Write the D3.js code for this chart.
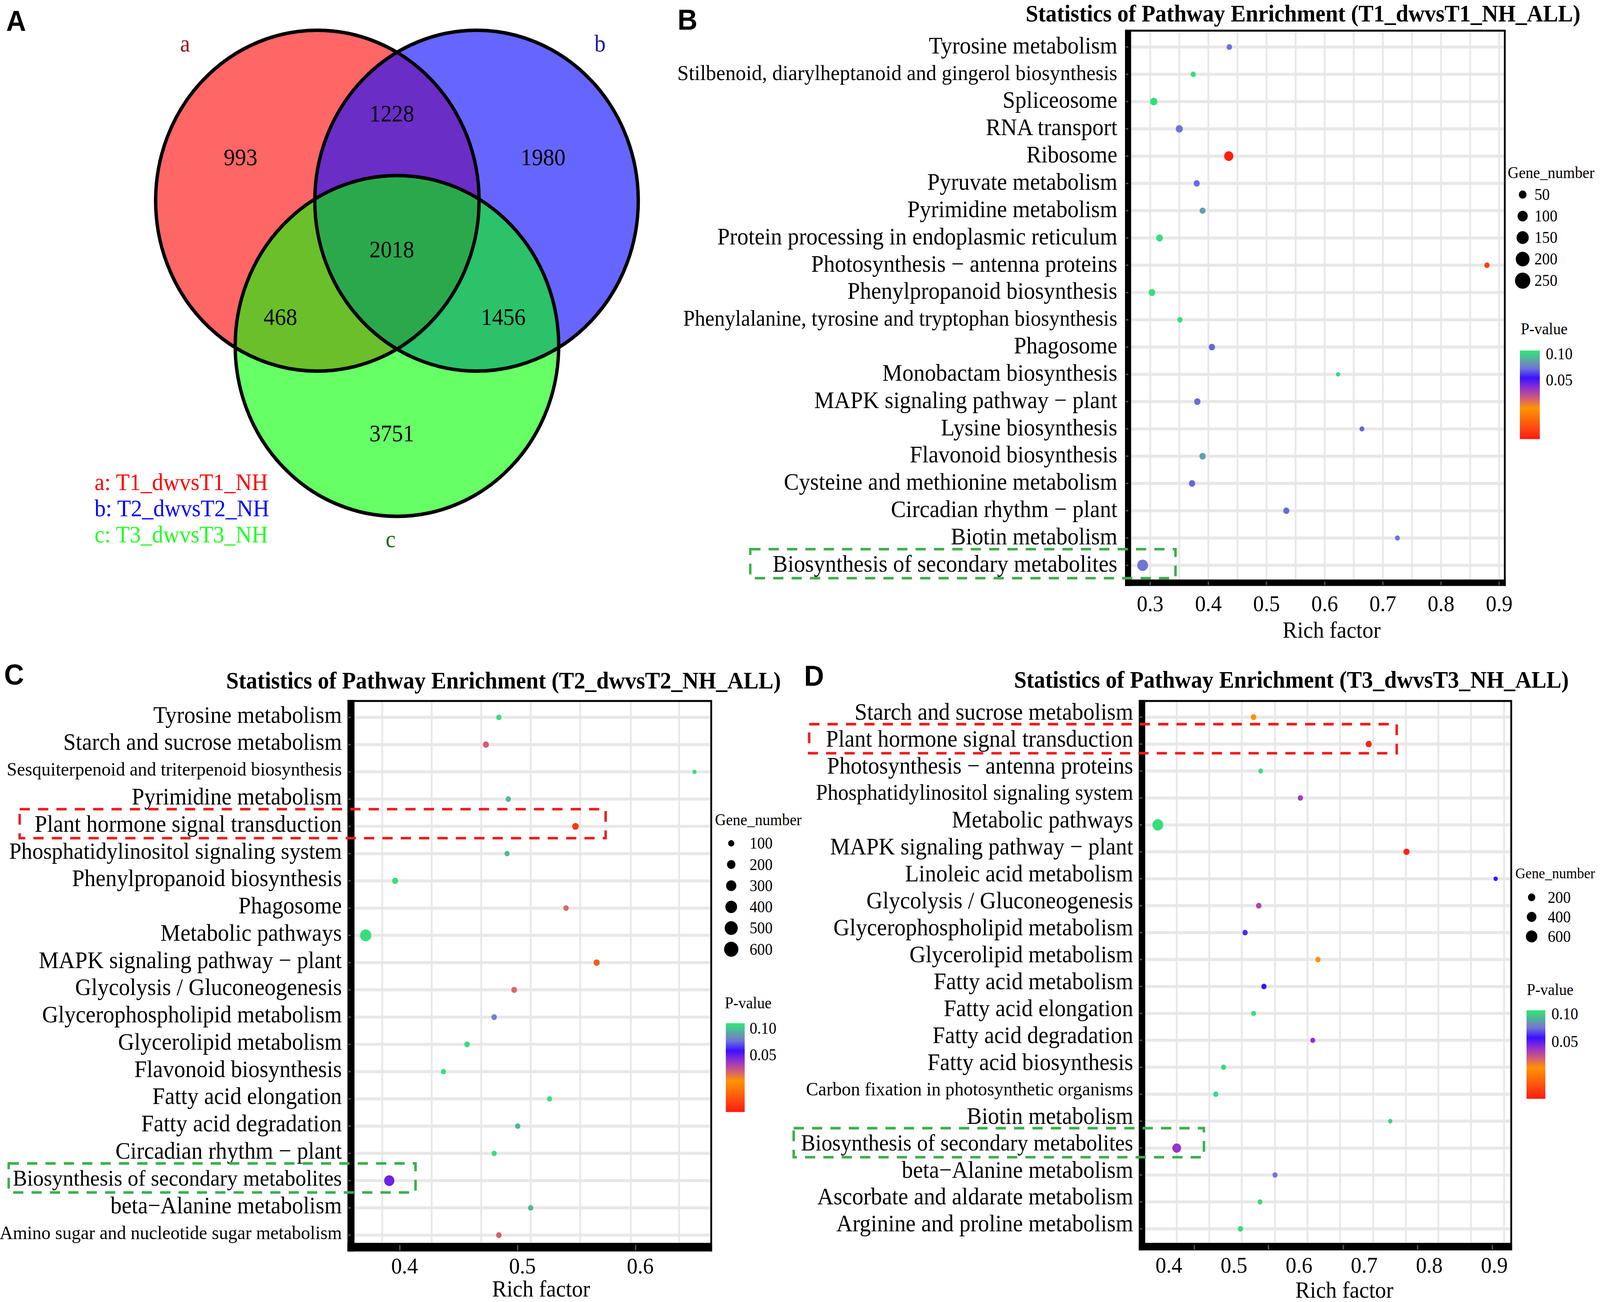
<!DOCTYPE html>
<html><head><meta charset="utf-8">
<script src="https://cdn.jsdelivr.net/npm/d3@7"></script>
<style>html,body{margin:0;padding:0;width:100%;height:100%;overflow:hidden;background:#fff;}svg{display:block;width:100vw;height:100vh;}</style>
</head><body>
<svg id="fig" viewBox="0 0 1568 1211" preserveAspectRatio="none"></svg>
<script>
// ================= DATA =================
// Panel A (Venn)
const vennSets = ["a", "b", "c"];
const vennSetNames = ["T1_dwvsT1_NH", "T2_dwvsT2_NH", "T3_dwvsT3_NH"];
const vennRegions = ["a", "ab", "b", "abc", "ac", "bc", "c"];
const vennCounts = [993, 1228, 1980, 2018, 468, 1456, 3751];

// Panel B
const pathwaysB = ["Tyrosine metabolism","Stilbenoid, diarylheptanoid and gingerol biosynthesis","Spliceosome","RNA transport","Ribosome","Pyruvate metabolism","Pyrimidine metabolism","Protein processing in endoplasmic reticulum","Photosynthesis \u2212 antenna proteins","Phenylpropanoid biosynthesis","Phenylalanine, tyrosine and tryptophan biosynthesis","Phagosome","Monobactam biosynthesis","MAPK signaling pathway \u2212 plant","Lysine biosynthesis","Flavonoid biosynthesis","Cysteine and methionine metabolism","Circadian rhythm \u2212 plant","Biotin metabolism","Biosynthesis of secondary metabolites"];
const richB = [0.436,0.374,0.306,0.350,0.435,0.380,0.390,0.316,0.879,0.303,0.351,0.406,0.623,0.381,0.664,0.390,0.372,0.534,0.725,0.287];
const genesB = [16,12,43,39,78,24,21,33,13,33,13,27,1,27,8,27,27,24,8,115];
const pvalB = [0.068,0.105,0.105,0.068,0.011,0.067,0.082,0.104,0.0135,0.105,0.104,0.066,0.097,0.067,0.066,0.082,0.066,0.067,0.068,0.069];
const ticksB = [0.3,0.4,0.5,0.6,0.7,0.8,0.9];
const gridB = [0.30,0.35,0.40,0.45,0.50,0.55,0.60,0.65,0.70,0.75,0.80,0.85,0.90];
const sizeLegendB = [50,100,150,200,250];

// Panel C
const pathwaysC = ["Tyrosine metabolism","Starch and sucrose metabolism","Sesquiterpenoid and triterpenoid biosynthesis","Pyrimidine metabolism","Plant hormone signal transduction","Phosphatidylinositol signaling system","Phenylpropanoid biosynthesis","Phagosome","Metabolic pathways","MAPK signaling pathway \u2212 plant","Glycolysis / Gluconeogenesis","Glycerophospholipid metabolism","Glycerolipid metabolism","Flavonoid biosynthesis","Fatty acid elongation","Fatty acid degradation","Circadian rhythm \u2212 plant","Biosynthesis of secondary metabolites","beta\u2212Alanine metabolism","Amino sugar and nucleotide sugar metabolism"];
const richC = [0.480,0.469,0.646,0.488,0.545,0.487,0.392,0.537,0.367,0.563,0.493,0.476,0.453,0.433,0.523,0.496,0.476,0.387,0.507,0.480];
const genesC = [72,100,38,72,116,66,93,72,366,100,86,79,79,66,66,72,66,300,72,79];
const pvalC = [0.11,0.032,0.11,0.095,0.0134,0.095,0.11,0.031,0.11,0.017,0.031,0.077,0.11,0.11,0.11,0.094,0.11,0.048,0.093,0.032];
const ticksC = [0.4,0.5,0.6];
const tickMarksC = [0.396,0.496,0.596];
const gridC = [0.381,0.423,0.465,0.507,0.549,0.592,0.633];
const sizeLegendC = [100,200,300,400,500,600];

// Panel D
const pathwaysD = ["Starch and sucrose metabolism","Plant hormone signal transduction","Photosynthesis \u2212 antenna proteins","Phosphatidylinositol signaling system","Metabolic pathways","MAPK signaling pathway \u2212 plant","Linoleic acid metabolism","Glycolysis / Gluconeogenesis","Glycerophospholipid metabolism","Glycerolipid metabolism","Fatty acid metabolism","Fatty acid elongation","Fatty acid degradation","Fatty acid biosynthesis","Carbon fixation in photosynthetic organisms","Biotin metabolism","Biosynthesis of secondary metabolites","beta\u2212Alanine metabolism","Ascorbate and aldarate metabolism","Arginine and proline metabolism"];
const richD = [0.530,0.707,0.541,0.602,0.383,0.765,0.902,0.538,0.517,0.629,0.546,0.530,0.621,0.484,0.472,0.740,0.412,0.563,0.540,0.510];
const genesD = [89,114,33,65,529,114,14,77,65,65,65,43,43,54,54,14,320,54,43,65];
const pvalD = [0.026,0.0127,0.105,0.040,0.105,0.0127,0.055,0.038,0.059,0.025,0.055,0.104,0.043,0.105,0.105,0.100,0.042,0.070,0.105,0.105];
const ticksD = [0.4,0.5,0.6,0.7,0.8,0.9];
const tickMarksD = [0.439,0.553,0.668,0.782,0.897];
const gridD = [0.412,0.462,0.512,0.563,0.613,0.663,0.714,0.764,0.814,0.864,0.915];
const sizeLegendD = [200,400,600];

const pLegendTicks = [0.10, 0.05];

// highlighted rows (dashed boxes): category, right end in rich-factor units
const boxesB = [{cat:"Biosynthesis of secondary metabolites", xEnd:0.3435, kind:"green"}];
const boxesC = [{cat:"Plant hormone signal transduction", xEnd:0.5706, kind:"red"},{cat:"Biosynthesis of secondary metabolites", xEnd:0.4093, kind:"green"}];
const boxesD = [{cat:"Plant hormone signal transduction", xEnd:0.750, kind:"red"},{cat:"Biosynthesis of secondary metabolites", xEnd:0.4538, kind:"green"}];

// ================= STYLE / LAYOUT =================
const SERIF = "'Liberation Serif','Times New Roman',Times,serif";
const SANS = "'Liberation Sans',Arial,Helvetica,sans-serif";
const LABEL_FS = 22;
const labelFontOverride = {
  "Sesquiterpenoid and triterpenoid biosynthesis":18,
  "Amino sugar and nucleotide sugar metabolism":18,
  "Carbon fixation in photosynthetic organisms":18,
  "Stilbenoid, diarylheptanoid and gingerol biosynthesis":20.2,
  "Phenylalanine, tyrosine and tryptophan biosynthesis":20.4
};
const gradStops = [[0,"#2fe875"],[0.15,"#6a90b8"],[0.2,"#6e74d8"],[0.31,"#3a10ff"],[0.42,"#9030d0"],[0.55,"#d86070"],[0.65,"#ff9500"],[0.82,"#ff5a10"],[1,"#ff1a10"]];
const pColor = d3.scaleLinear().domain(gradStops.map(d=>d[0])).range(gradStops.map(d=>d[1])).interpolate(d3.interpolateRgb).clamp(true);
const boxColor = {green:"#3bb04a", red:"#f01c1c"};

const svg = d3.select("#fig");
const defs = svg.append("defs");
const lg = defs.append("linearGradient").attr("id","pgrad").attr("x1",0).attr("y1",0).attr("x2",0).attr("y2",1);
gradStops.forEach(s => lg.append("stop").attr("offset", s[0]).attr("stop-color", s[1]));

// ================= PANEL A: VENN =================
(function drawVenn(){
  const G = [389, 231.7], side = 156, R = 158.5;
  const h = side / (2*Math.sqrt(3));
  const centers = {a:[G[0]-side/2, G[1]-h], b:[G[0]+side/2, G[1]-h], c:[G[0], G[1]+2*h]};
  const fills = {a:"#ff6666", b:"#6666ff", c:"#66ff66", ab:"#6a2dc6", ac:"#6bbf2a", bc:"#2bc26a", abc:"#2ca84c"};
  const g = svg.append("g");
  vennSets.forEach(s => {
    defs.append("clipPath").attr("id","clip_"+s).append("circle")
      .attr("cx",centers[s][0]).attr("cy",centers[s][1]).attr("r",R);
  });
  const circ = (sel, s, fill) => sel.append("circle").attr("cx",centers[s][0]).attr("cy",centers[s][1]).attr("r",R).attr("fill",fill);
  vennSets.forEach(s => circ(g, s, fills[s]));
  circ(g.append("g").attr("clip-path","url(#clip_a)"), "b", fills.ab);
  circ(g.append("g").attr("clip-path","url(#clip_a)"), "c", fills.ac);
  circ(g.append("g").attr("clip-path","url(#clip_b)"), "c", fills.bc);
  circ(g.append("g").attr("clip-path","url(#clip_a)").append("g").attr("clip-path","url(#clip_b)"), "c", fills.abc);
  vennSets.forEach(s => g.append("circle").attr("cx",centers[s][0]).attr("cy",centers[s][1]).attr("r",R)
     .attr("fill","none").attr("stroke","#000").attr("stroke-width",3.3));
  const regionPos = r => {
    const cs = r.split("").map(s=>centers[s]);
    const m = [d3.mean(cs,d=>d[0]), d3.mean(cs,d=>d[1])];
    const k = r.length===1 ? 1.9 : (r.length===2 ? 2.8 : 1);
    return [G[0] + (m[0]-G[0])*k - 5, G[1] + (m[1]-G[1])*k];
  };
  g.selectAll(".cnt").data(vennRegions.map((r,i)=>({r, n:vennCounts[i]}))).join("text")
    .attr("x", d=>regionPos(d.r)[0]).attr("y", d=>regionPos(d.r)[1]+7.5)
    .attr("text-anchor","middle").attr("font-family",SERIF).attr("font-size",22).attr("fill","#000")
    .text(d=>d.n);
  const setLabelPos = {a:[181.4,48], b:[588,48], c:[382.8,509]};
  const setLabelCol = {a:"#9b1111", b:"#1a1a9e", c:"#0c6e0c"};
  vennSets.forEach(s => g.append("text").attr("x",setLabelPos[s][0]).attr("y",setLabelPos[s][1])
     .attr("text-anchor","middle").attr("font-family",SERIF).attr("font-size",22).attr("fill",setLabelCol[s]).text(s));
  const legCol = ["#ff0000","#0000ff","#22ff22"];
  vennSets.forEach((s,i) => g.append("text").attr("x",92.6).attr("y",456 + i*24.2)
     .attr("font-family",SERIF).attr("font-size",22).attr("fill",legCol[i]).text(s + ": " + vennSetNames[i]));
  svg.append("text").attr("x",6).attr("y",28.6).attr("font-family",SANS).attr("font-weight","bold").attr("font-size",27).text("A");
})();

// ================= BUBBLE PANELS =================
function drawPanel(c){
  const g = svg.append("g");
  const x = d3.scaleLinear().domain(c.xDomain).range([c.left, c.right]);
  const y = d3.scalePoint().domain(c.cats).range(c.yRange).padding(0.6);
  const size = d3.scaleRadial().domain(c.sizeDomain).range(c.sizeRange);
  const tScale = d3.scaleLog().domain(c.pDomain).range([0,1]).clamp(true);
  const col = p => pColor(tScale(p));
  const fsOf = d => (c.fontOverride && c.fontOverride[d]) || labelFontOverride[d] || LABEL_FS;

  g.selectAll(".vg").data(c.grid).join("line")
    .attr("x1",d=>x(d)).attr("x2",d=>x(d)).attr("y1",c.top).attr("y2",c.bandTop)
    .attr("stroke","#e8e8e8").attr("stroke-width",1.8);
  g.selectAll(".hg").data(c.cats).join("line")
    .attr("x1",c.left).attr("x2",c.right-1).attr("y1",d=>y(d)).attr("y2",d=>y(d))
    .attr("stroke","#e8e8e8").attr("stroke-width",2.8);

  const pts = c.cats.map((cat,i)=>({cat, rich:c.rich[i], genes:c.genes[i], p:c.pval[i]}));
  g.selectAll(".pt").data(pts).join("circle")
    .attr("cx",d=>x(d.rich)).attr("cy",d=>y(d.cat)).attr("r",d=>size(d.genes)).attr("fill",d=>col(d.p));

  g.append("line").attr("x1",c.bandLeft).attr("x2",c.right+0.9).attr("y1",c.top).attr("y2",c.top).attr("stroke","#000").attr("stroke-width",1.8);
  g.append("line").attr("x1",c.right).attr("x2",c.right).attr("y1",c.top).attr("y2",c.bandBottom).attr("stroke","#000").attr("stroke-width",1.8);
  g.append("rect").attr("x",c.bandLeft).attr("y",c.top-0.9).attr("width",c.left-c.bandLeft).attr("height",c.bandBottom-c.top+0.9).attr("fill","#000");
  g.append("rect").attr("x",c.bandLeft).attr("y",c.bandTop).attr("width",c.right+0.9-c.bandLeft).attr("height",c.bandBottom-c.bandTop).attr("fill","#000");
  g.selectAll(".yt").data(c.cats).join("line")
    .attr("x1",c.bandLeft+0.8).attr("x2",c.bandLeft+3.2).attr("y1",d=>y(d)).attr("y2",d=>y(d))
    .attr("stroke","#555").attr("stroke-width",1.3);
  g.selectAll(".xt").data(c.tickMarks).join("line")
    .attr("x1",d=>x(d)).attr("x2",d=>x(d)).attr("y1",c.bandTop+2).attr("y2",c.bandBottom-0.8)
    .attr("stroke","#555").attr("stroke-width",1.3);

  g.selectAll(".tl").data(c.ticks).join("text")
    .attr("x",d=>x(d)).attr("y",c.tickLabelY).attr("text-anchor","middle")
    .attr("font-family",SERIF).attr("font-size",21).attr("fill","#000").text(d=>d3.format(".1f")(d));
  g.append("text").attr("x",c.axisTitleX).attr("y",c.axisTitleY).attr("text-anchor","middle")
    .attr("font-family",SERIF).attr("font-size",21.5).text("Rich factor");

  const labels = g.selectAll(".cl").data(c.cats).join("text")
    .attr("x",c.labelRight).attr("y",d=>y(d)+c.labelDy).attr("dominant-baseline","central")
    .attr("text-anchor","end").attr("font-family",SERIF)
    .attr("font-size",fsOf).attr("fill","#000").text(d=>d);

  g.append("text").attr("x",c.titleX).attr("y",c.titleY).attr("text-anchor","middle")
    .attr("font-family",SERIF).attr("font-weight","bold").attr("font-size",22).text(c.title);
  g.append("text").attr("x",c.letterX).attr("y",c.letterY).attr("font-family",SANS)
    .attr("font-weight","bold").attr("font-size",27).text(c.letter);

  const sl = c.sizeLeg;
  g.append("text").attr("x",sl.titleX).attr("y",sl.titleY).attr("font-family",SERIF).attr("font-size",sl.fs).text("Gene_number");
  g.selectAll(".sld").data(c.sizeLegend).join("circle")
    .attr("cx",sl.dotX).attr("cy",(d,i)=>sl.y0+i*sl.step).attr("r",d=>size(d)).attr("fill","#000");
  g.selectAll(".slt").data(c.sizeLegend).join("text")
    .attr("x",sl.labelX).attr("y",(d,i)=>sl.y0+i*sl.step).attr("dominant-baseline","central")
    .attr("font-family",SERIF).attr("font-size",15).text(d=>d);

  const pl = c.pLeg;
  const pY = d3.scaleLog().domain(c.pDomain).range([pl.y0, pl.y1]);
  g.append("text").attr("x",pl.titleX).attr("y",pl.titleY).attr("font-family",SERIF).attr("font-size",15).text("P-value");
  g.append("rect").attr("x",pl.x).attr("y",pl.y0).attr("width",pl.w).attr("height",pl.y1-pl.y0).attr("fill","url(#pgrad)");
  g.selectAll(".plt").data(pLegendTicks).join("text")
    .attr("x",pl.labelX).attr("y",d=>pY(d)).attr("dominant-baseline","central")
    .attr("font-family",SERIF).attr("font-size",15).text(d=>d3.format(".2f")(d));

  const lab = {};
  labels.each(function(d){ lab[d] = this; });
  c.boxes.forEach(b => {
    const node = lab[b.cat];
    const w = node.getComputedTextLength();
    const x0 = c.labelRight - w - c.boxPad[b.kind];
    const yc = y(b.cat) + c.labelDy;
    g.append("rect").attr("x",x0).attr("y",yc-13.5).attr("width",x(b.xEnd)-x0).attr("height",27)
      .attr("fill","none").attr("stroke",boxColor[b.kind]).attr("stroke-width",2.4)
      .attr("stroke-dasharray","10,8");
  });
}

drawPanel({
  cats:pathwaysB, rich:richB, genes:genesB, pval:pvalB, ticks:ticksB, tickMarks:ticksB, grid:gridB,
  sizeLegend:sizeLegendB, boxes:boxesB,
  xDomain:[0.2672,0.9096], left:1108.5, right:1474.7, top:28.5, bandTop:539, bandBottom:545, bandLeft:1102.5,
  yRange:[28.5,541], labelRight:1095, labelDy:-1.5,
  tickLabelY:568.4, axisTitleX:1305, axisTitleY:593,
  title:"Statistics of Pathway Enrichment (T1_dwvsT1_NH_ALL)", titleX:1277, titleY:20,
  letter:"B", letterX:664, letterY:27.6,
  sizeDomain:[0,250], sizeRange:[2,7.5],
  sizeLeg:{titleX:1477.6, titleY:165.5, dotX:1492.2, labelX:1503.8, y0:181, step:20, fs:15},
  pDomain:[0.1088,0.01068],
  pLeg:{titleX:1490.4, titleY:311, x:1489.5, w:19.5, y0:326, y1:408.4, labelX:1514.9},
  boxPad:{green:22, red:15}
});

drawPanel({
  cats:pathwaysC, rich:richC, genes:genesC, pval:pvalC, ticks:ticksC, tickMarks:tickMarksC, grid:gridC,
  sizeLegend:sizeLegendC, boxes:boxesC,
  fontOverride:{"Biosynthesis of secondary metabolites":21, "Phosphatidylinositol signaling system":21.5},
  xDomain:[0.3575,0.6602], left:347.4, right:697, top:652, bandTop:1156, bandBottom:1164, bandLeft:340.5,
  yRange:[652,1164], labelRight:335, labelDy:-2.5,
  tickLabelY:1184.5, axisTitleX:530.3, axisTitleY:1206,
  title:"Statistics of Pathway Enrichment (T2_dwvsT2_NH_ALL)", titleX:493.5, titleY:640.5,
  letter:"C", letterX:4, letterY:636.7,
  sizeDomain:[0,600], sizeRange:[1,7],
  sizeLeg:{titleX:700.6, titleY:767.5, dotX:716.6, labelX:734.6, y0:784.4, step:19.7, fs:15},
  pDomain:[0.1146,0.01107],
  pLeg:{titleX:710.3, titleY:938, x:711.3, w:18.5, y0:951.7, y1:1034.3, labelX:734.6},
  boxPad:{green:4, red:14.6}
});

drawPanel({
  cats:pathwaysD, rich:richD, genes:genesD, pval:pvalD, ticks:ticksD, tickMarks:tickMarksD, grid:gridD,
  sizeLegend:sizeLegendD, boxes:boxesD,
  fontOverride:{"Biosynthesis of secondary metabolites":21.2, "Phosphatidylinositol signaling system":20.5},
  xDomain:[0.3636,0.9259], left:1122.3, right:1481, top:652, bandTop:1156, bandBottom:1163, bandLeft:1116,
  yRange:[652,1158], labelRight:1110.5, labelDy:-5,
  tickLabelY:1183.8, axisTitleX:1317.5, axisTitleY:1207,
  title:"Statistics of Pathway Enrichment (T3_dwvsT3_NH_ALL)", titleX:1265.6, titleY:639.7,
  letter:"D", letterX:788, letterY:637.7,
  sizeDomain:[0,600], sizeRange:[1.94,5.6],
  sizeLeg:{titleX:1485, titleY:817, dotX:1501, labelX:1516.8, y0:834.6, step:18.2, fs:13.8},
  pDomain:[0.1093,0.0119],
  pLeg:{titleX:1496.2, titleY:925.6, x:1496, w:18.4, y0:939.7, y1:1022, labelX:1520.4},
  boxPad:{green:7.2, red:16.4}
});
</script>
</body></html>
